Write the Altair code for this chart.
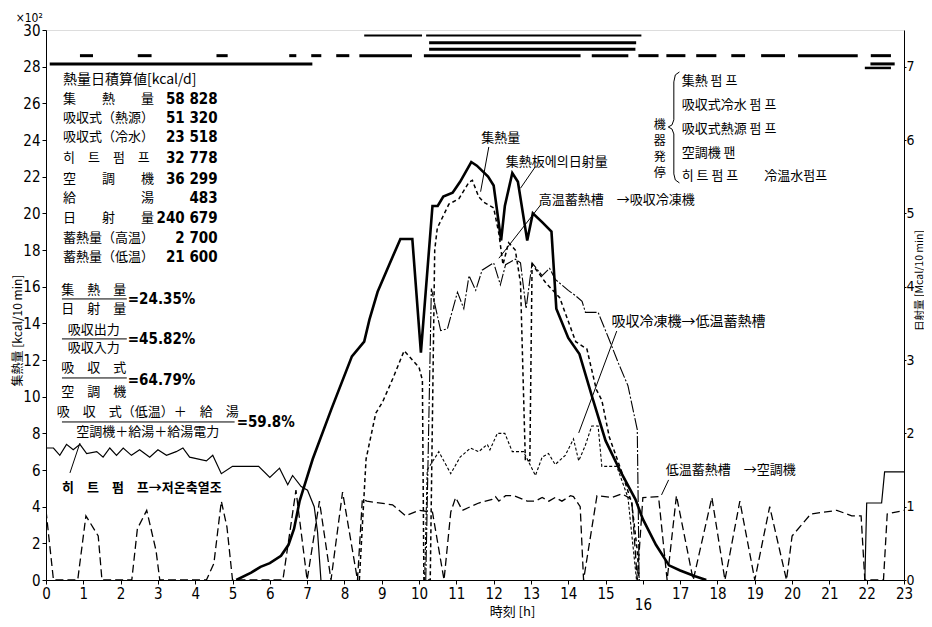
import altair as alt
import pandas as pd

# ---------------- data ----------------
# solar radiation on the collector [Mcal/10 min] (right axis)
solar_h = [5.1, 5.5, 5.75, 6.0, 6.3, 6.5, 6.65, 6.8, 7.15, 7.65, 8.2, 8.53, 8.67, 8.89, 9.2, 9.5, 9.82,
           10.05, 10.36, 10.5, 10.65, 10.9, 11.1, 11.4, 11.55, 11.85, 12.0, 12.2, 12.3, 12.5, 12.65, 12.9,
           13.05, 13.3, 13.55, 13.68, 14.0, 14.3, 14.65, 15.0, 15.4, 15.8, 16.0, 16.35, 16.7, 17.0, 17.4, 17.7]
solar_v = [0, 0.1, 0.18, 0.23, 0.33, 0.48, 0.7, 1.08, 1.65, 2.33, 3.05, 3.25, 3.55, 3.93, 4.3, 4.65, 4.65,
           3.1, 5.1, 5.1, 5.23, 5.28, 5.43, 5.7, 5.65, 5.5, 5.38, 4.63, 5.1, 5.55, 5.43, 4.63,
           5.0, 4.88, 4.75, 3.7, 3.3, 3.08, 2.48, 1.9, 1.48, 1.1, 0.83, 0.48, 0.2, 0.13, 0.05, 0]

# collected heat [x10^2 kcal/10 min]
coll_h = [8.4, 8.58, 8.84, 9.02, 9.3, 9.6, 10.0, 10.09, 10.13, 10.3, 10.42, 10.49, 10.8, 11.07, 11.34, 11.43,
          11.6, 11.74, 12.0, 12.14, 12.25, 12.4, 12.58, 12.72, 12.85, 12.97, 13.03, 13.15, 13.4, 13.77, 14.2,
          14.5, 14.75, 14.9, 15.1, 15.45, 15.7, 15.85, 15.9]
coll_v = [0, 6.6, 9.1, 9.7, 11.0, 12.5, 11.6, 10.9, 0, 0, 18.0, 19.2, 20.5, 20.8, 21.7, 21.8,
          20.9, 20.6, 20.3, 18.9, 17.2, 18.4, 18.0, 16.2, 6.5, 6.5, 17.2, 16.9, 16.2, 15.4, 13.0,
          12.6, 10.4, 9.8, 7.8, 5.8, 4.2, 1.6, 0]

# high-temperature storage -> absorption chiller
hi_h = [10.18, 10.33, 10.58, 10.76, 11.03, 11.2, 11.34, 11.52, 11.69, 12.0, 12.18, 12.32, 12.58, 12.72, 12.87,
        13.03, 13.3, 13.5, 13.65, 14.0, 14.2, 14.37, 14.46, 14.8, 15.08, 15.35, 15.6, 15.85, 15.9]
hi_v = [0, 15.9, 13.6, 13.7, 15.7, 14.8, 16.6, 15.8, 16.9, 17.3, 16.1, 17.2, 17.5, 17.3, 14.8,
        17.3, 16.6, 17.0, 16.4, 15.8, 15.5, 15.2, 14.6, 14.6, 13.2, 11.8, 10.6, 8.2, 0]

# absorption chiller -> low-temperature storage
ab_h = [10.15, 10.22, 10.53, 10.85, 11.1, 11.38, 11.6, 11.83, 11.9, 12.1, 12.3, 12.5, 12.8, 13.12, 13.3,
        13.47, 13.65, 13.92, 14.14, 14.28, 14.45, 14.63, 14.8, 14.9, 15.3, 15.6, 15.83]
ab_v = [0, 6.0, 7.0, 5.8, 6.7, 7.2, 7.0, 7.4, 7.1, 8.0, 8.0, 7.0, 7.0, 5.7, 6.7,
        6.9, 6.3, 6.8, 7.7, 6.5, 7.3, 8.4, 8.4, 6.2, 6.2, 4.5, 0]

# low-temperature storage -> air conditioner
ac_h = [0, 0.2, 0.85, 1.07, 1.4, 1.5, 2.3, 2.45, 2.7, 2.95, 3.05, 4.3, 4.5, 4.7, 4.85, 5.0, 6.35, 6.7, 7.0,
        7.33, 7.64, 7.95, 8.35, 8.48, 8.6, 9.29, 9.64, 10.0, 10.36, 10.67, 10.85, 10.98, 11.16, 11.6, 11.96,
        12.05, 12.14, 12.32, 12.54, 12.9, 13.12, 13.3, 13.48, 13.65, 13.83, 14.06, 14.14, 14.32, 14.41, 14.77,
        15.17, 15.44, 15.7, 15.85, 16.0, 16.42, 16.65, 16.9, 17.35, 17.85, 18.2, 18.6, 19.0, 19.4, 19.85,
        20.0, 20.5, 21.2, 21.6, 21.85, 21.95, 22.45, 22.55, 23.0]
ac_v = [3.8, 0, 0, 3.5, 2.4, 0, 0, 2.8, 3.8, 1.6, 0, 0, 0.9, 4.3, 2.9, 0, 0, 4.9, 0,
        4.3, 0, 4.8, 0, 4.4, 4.3, 4.1, 3.5, 3.8, 3.7, 0, 3.7, 4.5, 3.8, 4.2, 4.4,
        4.55, 4.3, 4.6, 4.6, 4.3, 4.3, 4.5, 4.3, 4.5, 4.3, 4.6, 4.55, 4.0, 0, 4.6,
        4.5, 4.7, 4.4, 0, 4.5, 4.55, 0, 4.6, 0, 4.5, 0, 4.3, 0, 4.0, 0,
        2.4, 3.6, 3.8, 3.5, 3.5, 0, 0, 3.6, 3.8]

# heat pump -> low-temperature storage (night operation, two runs)
hp1_h = [0, 0.2, 0.37, 0.55, 0.73, 0.91, 1.09, 1.36, 1.53, 1.71, 1.89, 2.07, 2.29, 2.51, 2.78, 3.0, 3.23,
         3.49, 3.67, 3.85, 4.3, 4.47, 4.7, 5.0, 5.7, 6.0, 6.26, 6.48, 6.61, 6.84, 7.01, 7.19, 7.28, 7.37]
hp1_v = [7.2, 7.2, 6.8, 7.4, 7.1, 7.4, 6.9, 7.0, 6.7, 7.2, 6.8, 7.2, 6.8, 7.1, 6.7, 7.1, 6.8,
         7.0, 7.2, 6.7, 6.5, 6.8, 5.8, 6.2, 6.2, 5.6, 6.1, 5.2, 5.7, 5.1, 4.9, 4.0, 2.6, 0]
hp2_h = [21.95, 22.0, 22.4, 22.48, 23.0]
hp2_v = [0, 4.2, 4.2, 5.9, 5.9]

# equipment on/off periods [h]
st_collect_pump = [(8.53, 10.08), (10.19, 15.96)]
st_chw_pump = [(10.27, 15.82)]
st_src_pump = [(10.27, 15.8)]
st_ac_fan = [(0.91, 1.26), (2.46, 2.83), (4.57, 4.87), (6.52, 6.71), (7.11, 7.38), (7.78, 8.13),
             (8.40, 9.81), (10.13, 14.33), (14.63, 15.61), (15.88, 16.42), (16.63, 17.14), (17.43, 17.97),
             (18.37, 18.74), (19.17, 19.81), (20.16, 21.76), (22.11, 22.65)]
st_heat_pump = [(0.1, 7.14), (22.1, 22.75)]
st_cw_pump = [(21.95, 22.65)]

# daily totals [kcal/d]
total_labels = ["集　　熱　　量", "吸収式（熱源）", "吸収式（冷水）", "히　트　펌　프", "空　　調　　機",
                "給　　　　　湯", "日　　射　　量", "蓄熱量（高温）", "蓄熱量（低温）"]
total_values = ["58 828", "51 320", "23 518", "32 778", "36 299", "483", "240 679", "2 700", "21 600"]

# ---------------- layout / style ----------------
CJK = "Noto Sans CJK JP"
NUM = "Liberation Sans Narrow, DejaVu Sans Condensed, sans-serif"
# rows of the on/off bars (left-axis units)
ROW = {"collect": 29.7, "chw": 29.3, "src": 28.95, "fan": 28.6, "hp": 28.15, "cw": 27.93}

xs = alt.Scale(domain=[0, 23], nice=False, zero=False)
ys = alt.Scale(domain=[0, 30], nice=False)
xaxis = alt.Axis(values=list(range(24)), title="時刻 [h]", grid=False, tickSize=4, tickColor="black",
                 domainColor="black", labelFont=NUM, labelFontSize=15, labelColor="black", labelFlush=False,
                 labelPadding={"condition": {"test": "datum.value == 16", "value": 13}, "value": 2},
                 titleFont=CJK, titleFontSize=13, titleFontWeight="normal", titleColor="black",
                 titleX=466, titleY=31, titleAlign="center", titleBaseline="middle")
yaxis = alt.Axis(values=list(range(0, 31, 2)), title="集熱量 [kcal/10 min]", grid=False, tickSize=4,
                 tickColor="black", domainColor="black", labelFont=NUM, labelFontSize=15, labelColor="black",
                 labelPadding=2, titleFont=CJK, titleFontSize=12, titleFontWeight="normal", titleColor="black",
                 titleAngle=270, titleX=-29, titleY=300, titleAlign="center", titleBaseline="middle")
raxis = alt.Axis(orient="right", values=list(range(0, 8)), title="日射量 [Mcal/10 min]", grid=False, tickSize=2,
                 tickColor="black", domainColor="black", labelFont=NUM, labelFontSize=14, labelColor="black",
                 labelPadding=0, titleFont=CJK, titleFontSize=10.5, titleFontWeight="normal", titleColor="black",
                 titleAngle=270, titleX=15, titleY=250, titleAlign="center", titleBaseline="middle")


def X(f):
    return alt.X(f, type="quantitative", scale=xs, axis=xaxis)


def Y(f):
    return alt.Y(f, type="quantitative", scale=ys, axis=yaxis)


def series(hs, vs, seg=0):
    assert len(hs) == len(vs)
    return pd.DataFrame({"h": hs, "v": vs, "seg": seg, "i": range(len(hs))})


def line(df, width, dash=None):
    kw = dict(color="black", strokeWidth=width, clip=True)
    if dash:
        kw["strokeDash"] = dash
    return alt.Chart(df).mark_line(**kw).encode(x=X("h"), y=Y("v"), detail="seg:N", order="i:Q")


layers = []
layers.append(line(series(coll_h, coll_v), 1.5, [4, 3]))
layers.append(line(series(hi_h, hi_v), 1.1, [12, 2, 2, 2]))
layers.append(line(series(ab_h, ab_v), 1.1, [3, 2]))
layers.append(line(series(ac_h, ac_v), 1.3, [8, 4]))
layers.append(line(pd.concat([series(hp1_h, hp1_v, 0), series(hp2_h, hp2_v, 1)]), 1.2))


# on/off bars
def bars(periods, key, width):
    df = pd.DataFrame({"a": [p[0] for p in periods], "b": [p[1] for p in periods], "v": ROW[key]})
    return alt.Chart(df).mark_rule(color="black", strokeWidth=width).encode(x=X("a"), x2="b", y=Y("v"))


layers += [bars(st_collect_pump, "collect", 2), bars(st_chw_pump, "chw", 3), bars(st_src_pump, "src", 3),
           bars(st_ac_fan, "fan", 3), bars(st_heat_pump, "hp", 3), bars(st_cw_pump, "cw", 2.5)]


# ---------------- annotations (data coordinates) ----------------
def texts(rows, align="left", size=13, weight="normal", font=CJK, **kw):
    df = pd.DataFrame(rows, columns=["t", "h", "v"])
    return alt.Chart(df).mark_text(align=align, baseline="middle", font=font, fontSize=size,
                                   fontWeight=weight, color="black", **kw).encode(x=X("h"), y=Y("v"), text="t:N")


# unit of the left axis, above its top label
layers.append(texts([("×10²", -0.45, 30.65)], align="center", size=12, font=NUM))

block_v = [26.24, 25.20, 24.17, 23.02, 21.88, 20.84, 19.75, 18.66, 17.62]
layers.append(texts([("熱量日積算値[kcal/d]", 0.455, 27.28)], size=14))
layers.append(texts([(t, 0.455, v) for t, v in zip(total_labels, block_v)], size=13))
layers.append(texts([(t, 4.60, v) for t, v in zip(total_values, block_v)], align="right", size=15,
                    weight="bold", font=NUM))

fr_num = [("集　熱　量", 1.283, 15.82), ("吸収出力", 1.283, 13.64), ("吸　収　式", 1.283, 11.57),
          ("吸　収　式（低温）＋　給　湯", 2.728, 9.17)]
fr_den = [("日　射　量", 1.283, 14.78), ("吸収入力", 1.283, 12.66), ("空　調　機", 1.283, 10.26),
          ("空調機＋給湯＋給湯電力", 2.728, 8.07)]
fr_res = [("=24.35%", 2.193, 15.33), ("=45.82%", 2.193, 13.15), ("=64.79%", 2.193, 10.9),
          ("=59.8%", 5.11, 8.62)]
layers.append(texts(fr_num, align="center", size=13))
layers.append(texts(fr_den, align="center", size=13))
layers.append(texts(fr_res, align="left", size=15, weight="bold", font=NUM))
fr_bar = pd.DataFrame({"a": [0.428, 0.428, 0.428, 0.428], "b": [2.166, 2.166, 2.166, 5.056],
                       "v": [15.33, 13.15, 11.02, 8.62]})
layers.append(alt.Chart(fr_bar).mark_rule(color="black", strokeWidth=1).encode(x=X("a"), x2="b", y=Y("v")))

layers.append(texts([("히　트　펌　프→저온축열조", 0.428, 5.02)], size=13, weight="bold"))
layers.append(texts([("集熱量", 12.19, 24.10), ("集熱板에의日射量", 13.69, 22.80)], align="center", size=13))
layers.append(texts([("高温蓄熱槽　→吸収冷凍機", 13.21, 20.73), ("低温蓄熱槽　→空調機", 16.61, 6.0)], size=13))
layers.append(texts([("吸収冷凍機→低温蓄熱槽", 15.16, 14.08)], size=14))

# equipment legend
layers.append(texts([("機\n器\n発\n停", 16.45, 24.82)], align="center", size=12, lineBreak="\n", lineHeight=16))
layers.append(texts([("集熱 펌 프", 17.04, 27.22), ("吸収式冷水 펌 프", 17.04, 25.91), ("吸収式熱源 펌 프", 17.04, 24.60),
                     ("空調機 팬", 17.04, 23.30), ("히 트 펌 프　　冷温水펌프", 17.04, 22.04)], size=13))
brace = pd.DataFrame({
    "h": [16.98, 16.87, 16.83, 16.83, 16.78, 16.68, 16.78, 16.83, 16.83, 16.87, 16.98],
    "v": [27.71, 27.55, 27.17, 25.10, 24.82, 24.71, 24.60, 24.33, 22.15, 21.82, 21.66]})
brace["i"] = range(len(brace))
layers.append(alt.Chart(brace).mark_line(color="black", strokeWidth=1).encode(x=X("h"), y=Y("v"), order="i:Q"))

# leader lines
arrows = pd.DataFrame({
    "a": [0.642, 11.87, 13.12, 13.26, 15.30, 16.69],
    "va": [5.84, 23.62, 22.55, 20.46, 13.58, 5.46],
    "b": [0.909, 11.65, 12.72, 12.14, 14.28, 16.5],
    "vb": [7.47, 21.18, 21.37, 17.55, 8.02, 4.64]})
layers.append(alt.Chart(arrows).mark_rule(color="black", strokeWidth=1).encode(
    x=X("a"), x2="b", y=Y("va"), y2="vb"))

left = alt.layer(*layers)

solar = alt.Chart(series(solar_h, solar_v)).mark_line(color="black", strokeWidth=2.6, clip=True).encode(
    x=X("h"),
    y=alt.Y("v", type="quantitative", scale=alt.Scale(domain=[0, 7.5], nice=False), axis=raxis),
    order="i:Q")

chart = alt.layer(left, solar).resolve_scale(y="independent").properties(
    width=858, height=550,
    padding={"left": 38, "top": 22, "right": 20, "bottom": 38},
    autosize=alt.AutoSizeParams(type="none"),
).configure_view(stroke="black", strokeWidth=1).configure(background="white")

chart.save("out.html", embed_options={"renderer": "svg", "actions": False})
